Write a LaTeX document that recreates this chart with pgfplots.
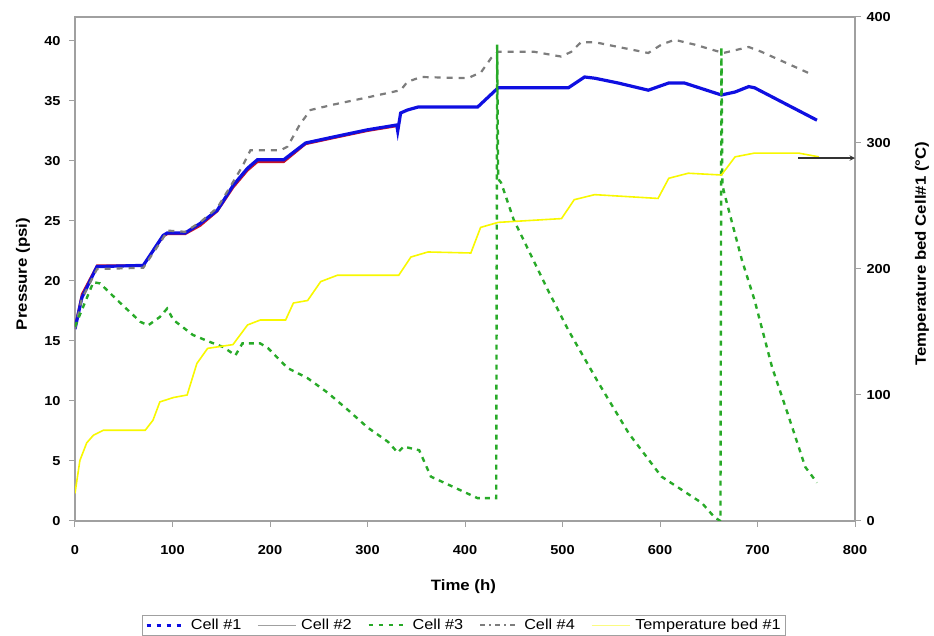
\documentclass[border=0pt]{standalone}
\usepackage{fontspec}
\setmainfont[FakeStretch=1.12]{Liberation Sans}
\usepackage{pgfplots}
\pgfplotsset{compat=1.18}
\definecolor{cblue}{RGB}{15,15,225}
\definecolor{cred}{RGB}{200,20,40}
\definecolor{cgreen}{RGB}{40,170,40}
\definecolor{cgray}{RGB}{125,125,125}
\definecolor{cyel}{RGB}{248,248,0}
\definecolor{caxis}{RGB}{160,160,160}
\begin{document}
\begin{tikzpicture}[font=\fontsize{14}{16}\selectfont]
\begin{axis}[
  at={(0,0)}, anchor=south west,
  scale only axis, width=780pt, height=504pt,
  xmin=0, xmax=800, ymin=0, ymax=42,
  xtick={0,100,...,800}, ytick={0,5,...,40},
  xtick pos=bottom, ytick pos=left,
  tick align=outside, major tick length=6pt,
  axis line style={caxis, line width=1.2pt},
  tick style={caxis, line width=1pt},
  /pgf/number format/assume math mode=true,
  ticklabel style={font=\bfseries\fontsize{13}{15}\selectfont},
  xticklabel style={yshift=-15pt},
  yticklabel style={xshift=-5pt},
  xlabel={\textbf{Time (h)}},
  ylabel={\textbf{Pressure (psi)}},
  xlabel style={at={(axis description cs:0.498,-0.131)}, anchor=center, font=\bfseries\fontsize{15}{17}\selectfont},
  ylabel style={at={(axis description cs:-0.0667,0.49)}, anchor=center, font=\bfseries\fontsize{15}{17}\selectfont},
  legend columns=5,
  legend style={at={(0.4987,-0.1865)}, anchor=north, draw=caxis, line width=0.8pt,
    font=\fontsize{14.5}{16}\selectfont,
    /tikz/every even column/.append style={column sep=14pt},
    /tikz/every odd column/.append style={column sep=3pt}},
  legend cell align=left,
  legend image code/.code={\draw[#1] (0pt,0pt) -- (38pt,0pt);},
]
% Cell #2 (red, under blue)
\addplot[cred, line width=2pt, forget plot] coordinates {
(0,16.2) (7,18.9) (22.6,21.3) (70,21.3) (90.5,23.7) (94.6,23.9) (113,23.9)
(128.5,24.6) (146,25.8) (162.5,27.8) (177,29.2) (187,29.9) (214,29.9)
(236.5,31.4) (265,31.9) (300,32.5) (330,32.9)
};
% Cell #1 (blue)
\addplot[cblue, line width=3.2pt, forget plot] coordinates {
(0,16.0) (7,18.6) (22.6,21.2) (70,21.3) (90.5,23.8) (94.6,24.0) (113,24.0)
(128.5,24.8) (146,25.9) (162.5,28.0) (177,29.4) (187,30.1) (214,30.1)
(236.5,31.5) (265,32.0) (300,32.6) (330,33.0) (331,32.5) (334,34.0)
(341,34.25) (352,34.5) (413,34.5) (434,36.1) (506,36.1) (522.6,37.0)
(533,36.9) (557,36.5) (588,35.9) (595,36.1) (609,36.5) (625,36.5)
(663,35.5) (677,35.75) (691,36.2) (697,36.1) (761,33.4)
};
% Cell #4 (gray dashed)
\addplot[cgray, line width=2.2pt, dash pattern=on 6pt off 6pt, forget plot] coordinates {
(0,16.0) (7,18.5) (22.6,21.0) (70,21.1) (90.5,23.6) (94.6,24.2) (113,24.1)
(128.5,24.9) (146,26.1) (162.5,28.3) (172,29.6) (180,30.9) (211,30.9)
(218,31.2) (231,33.1) (241.6,34.25) (265,34.7) (300,35.3) (334,35.9)
(341,36.6) (355,37.0) (403,36.9) (416.5,37.4) (427,38.6) (434,39.1)
(471,39.1) (498.7,38.7) (509,39.1) (519,39.9) (533,39.9) (588,39.0)
(601.5,39.7) (615,40.1) (635.5,39.7) (665,39.0) (691,39.5) (704,39.1)
(756,37.2)
};
% Cell #3 (green dashed)
\addplot[cgreen, line width=2.4pt, dash pattern=on 5pt off 5pt, forget plot] coordinates {
(0,16.2) (18.8,19.9) (25.7,19.8) (46,18.2) (67,16.6) (75,16.3) (87,17.0)
(94.5,17.7) (101,16.75) (121,15.5) (139,14.9) (152,14.5) (164.5,13.8)
(171.7,14.8) (190,14.8) (198,14.4) (218,12.75) (238.6,11.9) (259,10.7)
(280,9.25) (300,7.8) (321,6.6) (331,5.7) (337,6.2) (353,5.9) (365,3.7)
(389,2.8) (413,1.9) (432,1.9) (433,39.7) (434,28.5) (437,28.2) (450,25.1)
(485,19.25) (506,15.9) (537,11.5) (568,7.3) (601.5,3.7) (643,1.5)
(656,0.3) (662,0.0) (663,39.5) (664,28.0) (666,27.3) (684,21.75)
(697,18.4) (715,12.8) (732,8.7) (749,4.5) (761,3.2)
};
\addlegendimage{cblue, line width=2.5pt, dash pattern=on 4pt off 6pt}
\addlegendentry{Cell \#1}
\addlegendimage{caxis, line width=0.8pt}
\addlegendentry{Cell \#2}
\addlegendimage{cgreen, line width=2pt, dash pattern=on 4pt off 6pt}
\addlegendentry{Cell \#3}
\addlegendimage{cgray, line width=2pt, dash pattern=on 5pt off 4pt on 2pt off 4pt}
\addlegendentry{Cell \#4}
\addlegendimage{cyel!50!white, line width=1.5pt}
\addlegendentry{Temperature bed \#1}
\end{axis}
\begin{axis}[
  at={(0,0)}, anchor=south west,
  scale only axis, width=780pt, height=504pt,
  xmin=0, xmax=800, ymin=0, ymax=400,
  axis x line=none, axis y line*=right,
  ytick={0,100,...,400},
  tick align=outside, major tick length=6pt,
  axis line style={caxis, line width=1.2pt},
  tick style={caxis, line width=1pt},
  /pgf/number format/assume math mode=true,
  ticklabel style={font=\bfseries\fontsize{13}{15}\selectfont},
  yticklabel style={xshift=2pt},
  ylabel={\textbf{Temperature bed Cell\#1 (°C)}},
  ylabel style={at={(axis description cs:1.0859,0.53)}, anchor=center, rotate=0, font=\bfseries\fontsize{15}{17}\selectfont},
]
\addplot[cyel, line width=1.6pt] coordinates {
(0,22) (5,48) (12,62) (18.8,68) (29,72) (72,72) (80,80) (87,94.5) (101,98)
(115,100) (125,125) (136,137) (162,140) (177,155.6) (190,159.5) (216,159.5)
(224,173) (238.6,175) (252,190) (269,195) (332,195) (344.5,209.5) (362,213.5)
(406,212.7) (416,233) (434,237) (499,240) (512,255) (533,259) (598,256)
(609,272) (629,276) (663,274.6) (677,289) (697,292) (742,292) (763,289)
};
\draw[-stealth, line width=1.4pt, black!80] (axis cs:742,288) -- (axis cs:800,288);
\end{axis}
\pgfresetboundingbox
\path (-75pt,-115pt) rectangle (859pt,521pt);
\end{tikzpicture}
\end{document}
